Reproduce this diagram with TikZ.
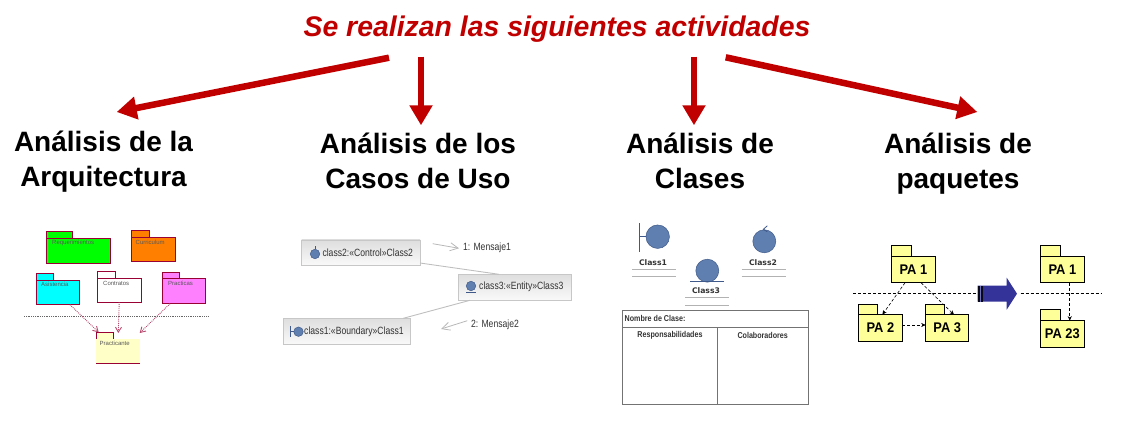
\documentclass[tikz,border=0pt]{standalone}
\usepackage{fontspec}
\setmainfont{Liberation Sans}
\newfontface\narrowface[FakeStretch=0.82]{Liberation Sans}
\newfontface\narrowbold[FakeStretch=0.84]{Liberation Sans Bold}
\newfontface\pabold[FakeStretch=0.92]{Liberation Sans Bold}
\newfontface\widebold{DejaVu Sans Bold}
\usetikzlibrary{arrows.meta,shadings}
\definecolor{redarrow}{HTML}{C00000}
\definecolor{titlered}{HTML}{C00000}
\definecolor{umlred}{HTML}{990033}
\definecolor{pkgyellow}{HTML}{FFFF99}
\definecolor{ballblue}{HTML}{5F7FB0}
\definecolor{ballline}{HTML}{3F5A8A}
\definecolor{navyarrow}{HTML}{333399}
\definecolor{pgreen}{HTML}{00FF00}
\definecolor{porange}{HTML}{FF8000}
\definecolor{pcyan}{HTML}{00FFFF}
\definecolor{ppink}{HTML}{FF80FF}
\tikzset{
  bigarrow/.style={redarrow,line width=6.5pt,-{Triangle[length=20pt,width=22pt]}},
  heading/.style={font=\fontsize{28}{35}\selectfont\bfseries,align=center,inner sep=0pt},
  pkgbody/.style={inner sep=0pt,outer sep=0pt},
  minipkg/.style={draw=umlred,line width=0.9pt},
  yelpkg/.style={draw=black,line width=0.7pt,fill=pkgyellow},
  minitext/.style={font=\fontsize{6}{7}\selectfont,text=black!65,anchor=west,inner sep=0pt},
  palabel/.style={font=\fontsize{14}{16}\pabold,inner sep=0pt},
  minidep/.style={umlred!70,densely dotted,line width=0.9pt,-{Straight Barb[length=5pt,width=6pt]}},
  padep/.style={black,densely dashed,line width=0.6pt,-{Stealth[length=4.5pt,width=4pt]}},
  cutline/.style={black,densely dashed,line width=0.7pt},
  classbox/.style={draw=black!22,line width=0.6pt,top color=black!13,bottom color=black!2,anchor=north west,inner sep=0pt,outer sep=0pt},
  classtext/.style={font=\fontsize{10.5}{13}\narrowface,text=black!80,anchor=west,inner sep=0pt},
  msgarrow/.style={black!28,line width=0.8pt,-{Straight Barb[length=8pt,width=8pt]}},
  assoc/.style={black!25,line width=0.9pt},
  ball/.style={circle,draw=ballline,line width=0.5pt,fill=ballblue,inner sep=0pt,outer sep=0pt},
  stereo/.style={ballline,line width=0.8pt},
  cname/.style={font=\fontsize{7.7}{10}\widebold,text=black!80,inner sep=0pt},
  crule/.style={black!30,line width=0.6pt},
  crctext/.style={font=\fontsize{8.5}{10}\narrowbold,text=black!80,inner sep=0pt},
  crcline/.style={black!55,line width=0.6pt},
}
\newcommand{\pkgshape}[8]{%
  \node[pkgbody,#8,anchor=north west,minimum width=#4pt,minimum height=#5pt] (#1) at (#2,#3) {};
  \node[pkgbody,#8,anchor=south west,minimum width=#6pt,minimum height=#7pt] (#1tab) at (#1.north west) {};
}
\begin{document}
\begin{tikzpicture}[x=1pt,y=-1pt]
\useasboundingbox (0,0) rectangle (1122,422);

% title and headings
\node[font=\fontsize{28.4}{33}\selectfont\bfseries\itshape,text=titlered,inner sep=0pt] (title) at (557,29) {Se realizan las siguientes actividades};
\node[heading] (h1) at (103.5,161.5) {Análisis de la\\Arquitectura};
\node[heading] (h2) at (418,161) {Análisis de los\\Casos de Uso};
\node[heading] (h3) at (700,161) {Análisis de\\Clases};
\node[heading] (h4) at (958,164) {Análisis de\\paquetes};

\coordinate (s1) at (389,57.7); \coordinate (e1) at (116.7,112);
\coordinate (s2) at (421,56.7); \coordinate (e2) at (421,125.3);
\coordinate (s3) at (694,56.7); \coordinate (e3) at (694,125.3);
\coordinate (s4) at (725.7,57.3); \coordinate (e4) at (977.3,112);
\draw[bigarrow] (s1) -- (e1);
\draw[bigarrow] (s2) -- (e2);
\draw[bigarrow] (s3) -- (e3);
\draw[bigarrow] (s4) -- (e4);

% --- left: mini package diagram
\pkgshape{req}{46.7}{238.3}{63.8}{25}{25.6}{6.6}{minipkg,fill=pgreen}
\pkgshape{cur}{131.3}{237.3}{44}{24.4}{18}{7}{minipkg,fill=porange}
\pkgshape{asi}{36.3}{280.3}{43.4}{24.4}{17.4}{7}{minipkg,fill=pcyan}
\pkgshape{con}{97.3}{278.3}{44.4}{24}{18.4}{7}{minipkg,fill=white}
\pkgshape{pra}{162.3}{278.3}{43.4}{25.4}{17.4}{6}{minipkg,fill=ppink}
\node[pkgbody,fill=pkgyellow!55,anchor=north west,minimum width=43.4pt,minimum height=24.3pt] (pte) at (96.3,339) {};
\node[pkgbody,fill=pkgyellow!55,anchor=south west,minimum width=17.4pt,minimum height=6.7pt] (ptetab) at (pte.north west) {};
\draw[umlred,line width=0.9pt] (pte.south west) -- (pte.south east);
\draw[umlred,line width=0.9pt] (ptetab.south west) |- (ptetab.north east) -- (ptetab.south east);

\node[minitext] (treq) at (52,243) {Requerimientos};
\node[minitext] (tcur) at (135.5,242) {Curriculum};
\node[minitext] (tasi) at (41,284) {Asistencia};
\node[minitext] (tcon) at (103,283) {Contratos};
\node[minitext] (tpra) at (168,283) {Practicas};
\node[minitext] (tpte) at (99.5,343) {Practicante};

\coordinate (dl) at (24,316.3); \coordinate (dr) at (209,316.3);
\draw[black!60,densely dotted,line width=0.8pt] (dl) -- (dr);
\draw[minidep] ([xshift=12pt]asi.south) -- ([xshift=2.4pt]ptetab.north west);
\draw[minidep] ([xshift=-0.3pt]con.south) -- ([xshift=0.3pt,yshift=6pt]pte.north);
\draw[minidep] ([xshift=-14pt]pra.south) -- ([yshift=6pt]pte.north east);

% --- middle: collaboration diagram
\node[classbox,minimum width=118.3pt,minimum height=25.7pt] (c2) at (301.7,240) {};
\node[classbox,minimum width=113.4pt,minimum height=26pt] (c3) at (458.3,274.3) {};
\node[classbox,minimum width=127pt,minimum height=26pt] (c1) at (283.3,318.3) {};
\draw[assoc] ([yshift=2.7pt]c2.south east) -- ([xshift=-16pt]c3.north);
\draw[assoc] ([xshift=-45pt]c3.south) -- ([xshift=-7pt]c1.north east);

\node[classtext] (tc2) at (322.3,252.5) {class2:«Control»Class2};
\node[classtext] (tc3) at (479,287) {class3:«Entity»Class3};
\node[classtext] (tc1) at (304,331.5) {class1:«Boundary»Class1};
% small icons
\node[ball,minimum size=9.5pt] (ic2) at (315,254) {};
\draw[stereo] (ic2.north) -- ++(0,-3);
\node[ball,minimum size=9.5pt] (ic3) at (471,286) {};
\draw[stereo] (466,292) -- (476,292);
\node[ball,minimum size=9.5pt] (ic1) at (298.5,331.7) {};
\draw[stereo] (290.7,326) -- (290.7,337);
\draw[stereo] (290.7,331.7) -- (ic1.west);

\coordinate (m1a) at (432.7,243.7); \coordinate (m1b) at (459,248.3);
\coordinate (m2a) at (467.3,320.7); \coordinate (m2b) at (441,329);
\draw[msgarrow] (m1a) -- (m1b);
\draw[msgarrow] (m2a) -- (m2b);
\node[classtext] (tm1) at (463,247.5) {1: Mensaje1};
\node[classtext] (tm2) at (471,325) {2: Mensaje2};

% --- classes
\node[ball,minimum size=23.5pt] (b1) at (657.7,236.7) {};
\draw[stereo] (639.3,223.3) -- (639.3,251.7);
\draw[stereo] (639.3,236.7) -- (b1.west);
\node[ball,minimum size=23pt] (b3) at (707.3,270.7) {};
\draw[stereo] (690,281.5) -- (724,281.5);
\node[ball,minimum size=23pt] (b2) at (764.3,241.3) {};
\draw[stereo] (b2.north) ++(3,-4) -- ++(-4,3.5) -- ++(4,2.5);

\node[cname] (n1) at (653,262.3) {Class1};
\node[cname] (n2) at (763,262.3) {Class2};
\node[cname] (n3) at (706,290.7) {Class3};
\draw[crule] (632,269) -- (676.3,269) (632,276.7) -- (676.3,276.7);
\draw[crule] (741.7,269) -- (786,269) (741.7,276.7) -- (786,276.7);
\draw[crule] (685,297.3) -- (729.3,297.3) (685,305) -- (729.3,305);

\node[draw=black!55,line width=0.6pt,anchor=north west,minimum width=186pt,minimum height=94.3pt,inner sep=0pt,outer sep=0pt] (crc) at (622.7,310) {};
\draw[crcline] (622.7,327.7) -- (808.7,327.7);
\draw[crcline] (717.3,327.7) -- (717.3,404.3);
\node[crctext,anchor=west] (crc1) at (624.5,318.5) {Nombre de Clase:};
\node[crctext] (crc2) at (670,335) {Responsabilidades};
\node[crctext] (crc3) at (762.7,335) {Colaboradores};

% --- right: packages
\pkgshape{pa1}{891.7}{256.3}{43.3}{26.4}{19.3}{11}{yelpkg}
\pkgshape{pa2}{858.7}{314.7}{43.3}{26.6}{18.6}{10.4}{yelpkg}
\pkgshape{pa3}{925.7}{314.7}{43}{26.6}{19}{10.4}{yelpkg}
\pkgshape{pb1}{1040.7}{256.3}{43.3}{26.4}{19.6}{11}{yelpkg}
\pkgshape{pb2}{1040.7}{320.7}{43.3}{26.3}{19.6}{11}{yelpkg}
\node[palabel] (tpa1) at (pa1.center) {PA 1};
\node[palabel] (tpa2) at (pa2.center) {PA 2};
\node[palabel] (tpa3) at (pa3.center) {PA 3};
\node[palabel] (tpb1) at (pb1.center) {PA 1};
\node[palabel] (tpb2) at (pb2.center) {PA 23};

\coordinate (cl1) at (853,293.3); \coordinate (cl2) at (977,293.3);
\coordinate (cl3) at (1020.7,293.3); \coordinate (cl4) at (1102,293.3);
\draw[cutline] (cl1) -- (cl2);
\draw[cutline] (cl3) -- (cl4);

\draw[padep] ([xshift=-8.3pt]pa1.south) -- ([xshift=2pt]pa2.north);
\draw[padep] ([xshift=7.7pt]pa1.south) -- ([xshift=6.8pt]pa3.north);
\draw[padep] ([yshift=3pt]pa2.east) -- ([yshift=3pt]pa3.west);
\draw[padep] ([xshift=7.4pt]pb1.south) -- ([xshift=7.4pt]pb2.north);

% block arrow
\fill[navyarrow] (977.7,285.7) -- (1006.7,285.7) -- (1006.7,277.7) -- (1017,293.7) -- (1006.7,309.7) -- (1006.7,301.7) -- (977.7,301.7) -- cycle;
\fill[black!85!navyarrow] (977.7,285.7) rectangle (983,301.7);
\fill[navyarrow!70!white] (980,285.7) rectangle (981,301.7);
\end{tikzpicture}
\end{document}
